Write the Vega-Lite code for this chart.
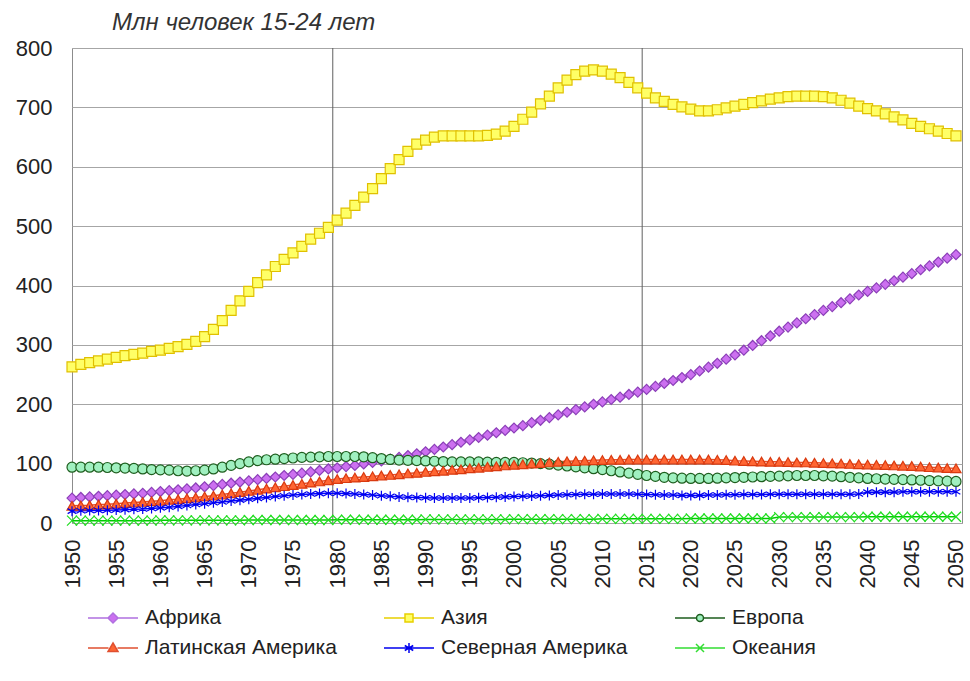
{
  "$schema": "https://vega.github.io/schema/vega-lite/v6.json",
  "width": 890,
  "height": 475,
  "autosize": {"type": "none"},
  "padding": {"left": 72, "top": 48, "right": 8, "bottom": 158},
  "background": "white",
  "title": {"text": "Млн человек 15-24 лет", "anchor": "start", "frame": "group", "dx": 40, "offset": 2, "font": "Liberation Sans", "fontSize": 24, "fontStyle": "italic", "fontWeight": "normal", "color": "#333333"},
  "config": {
    "font": "Liberation Sans",
    "view": {"stroke": "#8c8c8c", "strokeWidth": 1},
    "axis": {"labelFont": "Liberation Sans", "labelColor": "#222222", "labelFontSize": 22, "ticks": false, "domain": false, "grid": false, "title": null}
  },
  "datasets": {
    "youth": [
      {"year":1950,"Африка":42,"Азия":263,"Европа":94,"Латинская Америка":29,"Северная Америка":20,"Океания":4},
      {"year":1951,"Африка":43,"Азия":267,"Европа":94,"Латинская Америка":29.5,"Северная Америка":20.5,"Океания":4},
      {"year":1952,"Африка":44,"Азия":270,"Европа":94,"Латинская Америка":30,"Северная Америка":21,"Океания":4},
      {"year":1953,"Африка":45,"Азия":273,"Европа":94,"Латинская Америка":31,"Северная Америка":21,"Океания":4},
      {"year":1954,"Африка":46,"Азия":276,"Европа":93.5,"Латинская Америка":31.5,"Северная Америка":21.5,"Океания":4},
      {"year":1955,"Африка":47,"Азия":279,"Европа":93,"Латинская Америка":32.5,"Северная Америка":22,"Океания":4},
      {"year":1956,"Африка":48,"Азия":282,"Европа":92.5,"Латинская Америка":33.5,"Северная Америка":22.5,"Океания":4},
      {"year":1957,"Африка":49,"Азия":284,"Европа":92,"Латинская Америка":34.5,"Северная Америка":23,"Океания":4},
      {"year":1958,"Африка":50,"Азия":286,"Европа":91,"Латинская Америка":35.5,"Северная Америка":23.5,"Океания":4},
      {"year":1959,"Африка":51.5,"Азия":289,"Европа":90,"Латинская Америка":36.5,"Северная Америка":24.5,"Океания":4},
      {"year":1960,"Африка":53,"Азия":291,"Европа":89.5,"Латинская Америка":37.5,"Северная Америка":25.5,"Океания":4.5},
      {"year":1961,"Африка":54.5,"Азия":294,"Европа":89,"Латинская Америка":39,"Северная Америка":26.5,"Океания":4.5},
      {"year":1962,"Африка":56,"Азия":297,"Европа":88,"Латинская Америка":40,"Северная Америка":28,"Океания":4.5},
      {"year":1963,"Африка":57.5,"Азия":301,"Европа":87.5,"Латинская Америка":41.5,"Северная Америка":29.5,"Океания":4.5},
      {"year":1964,"Африка":59,"Азия":306,"Европа":88,"Латинская Америка":43,"Северная Америка":31,"Океания":4.5},
      {"year":1965,"Африка":61,"Азия":314,"Европа":89,"Латинская Америка":44.5,"Северная Америка":32.5,"Океания":4.5},
      {"year":1966,"Африка":63,"Азия":326,"Европа":91,"Латинская Америка":46,"Северная Америка":34,"Океания":4.5},
      {"year":1967,"Африка":65,"Азия":341,"Европа":94,"Латинская Америка":48,"Северная Америка":35.5,"Океания":4.5},
      {"year":1968,"Африка":67,"Азия":358,"Европа":97,"Латинская Америка":50,"Северная Америка":37,"Океания":4.5},
      {"year":1969,"Африка":69,"Азия":374,"Европа":100,"Латинская Америка":52,"Северная Америка":38.5,"Океания":4.5},
      {"year":1970,"Африка":71,"Азия":390,"Европа":103,"Латинская Америка":54,"Северная Америка":40,"Океания":5},
      {"year":1971,"Африка":73,"Азия":405,"Европа":105,"Латинская Америка":56,"Северная Америка":41.5,"Океания":5},
      {"year":1972,"Африка":75,"Азия":418,"Европа":106.5,"Латинская Америка":58,"Северная Америка":43,"Океания":5},
      {"year":1973,"Африка":77.5,"Азия":432,"Европа":107.5,"Латинская Америка":60,"Северная Америка":44.5,"Океания":5},
      {"year":1974,"Африка":80,"Азия":444,"Европа":108.5,"Латинская Америка":62,"Северная Америка":46,"Океания":5},
      {"year":1975,"Африка":82,"Азия":455,"Европа":109.5,"Латинская Америка":64,"Северная Америка":47,"Океания":5},
      {"year":1976,"Африка":84,"Азия":466,"Европа":110.5,"Латинская Америка":66,"Северная Америка":48,"Океания":5},
      {"year":1977,"Африка":86,"Азия":478,"Европа":111,"Латинская Америка":68,"Северная Америка":49,"Океания":5},
      {"year":1978,"Африка":88.5,"Азия":488,"Европа":111.5,"Латинская Америка":70,"Северная Америка":49.5,"Океания":5},
      {"year":1979,"Африка":91,"Азия":498,"Европа":112,"Латинская Америка":72,"Северная Америка":50,"Океания":5},
      {"year":1980,"Африка":93,"Азия":510,"Европа":112,"Латинская Америка":74,"Северная Америка":50,"Океания":5.5},
      {"year":1981,"Африка":95,"Азия":522,"Европа":112,"Латинская Америка":75.5,"Северная Америка":49.5,"Океания":5.5},
      {"year":1982,"Африка":97,"Азия":535,"Европа":112,"Латинская Америка":76.5,"Северная Америка":49,"Океания":5.5},
      {"year":1983,"Африка":99.5,"Азия":549,"Европа":111.5,"Латинская Америка":77.5,"Северная Америка":48,"Океания":5.5},
      {"year":1984,"Африка":102,"Азия":563,"Европа":110,"Латинская Америка":78.5,"Северная Америка":47,"Океания":5.5},
      {"year":1985,"Африка":104.5,"Азия":580,"Европа":108.5,"Латинская Америка":80,"Северная Америка":46,"Океания":5.5},
      {"year":1986,"Африка":107.5,"Азия":597,"Европа":107,"Латинская Америка":81,"Северная Америка":45,"Океания":5.5},
      {"year":1987,"Африка":110.5,"Азия":612,"Европа":106,"Латинская Америка":82,"Северная Америка":44,"Океания":5.5},
      {"year":1988,"Африка":113.5,"Азия":626,"Европа":105.5,"Латинская Америка":83.5,"Северная Америка":43.5,"Океания":5.5},
      {"year":1989,"Африка":116.5,"Азия":638,"Европа":105,"Латинская Америка":84.5,"Северная Америка":43,"Океания":5.5},
      {"year":1990,"Африка":120,"Азия":645,"Европа":104.5,"Латинская Америка":86,"Северная Америка":42.5,"Океания":6},
      {"year":1991,"Африка":124,"Азия":650,"Европа":104,"Латинская Америка":87,"Северная Америка":42,"Океания":6},
      {"year":1992,"Африка":128,"Азия":652,"Европа":103.5,"Латинская Америка":88,"Северная Америка":42,"Океания":6},
      {"year":1993,"Африка":132,"Азия":652,"Европа":103,"Латинская Америка":89.5,"Северная Америка":42,"Океания":6},
      {"year":1994,"Африка":136,"Азия":652,"Европа":103,"Латинская Америка":90.5,"Северная Америка":42,"Океания":6},
      {"year":1995,"Африка":140,"Азия":652,"Европа":103,"Латинская Америка":92,"Северная Америка":42,"Океания":6},
      {"year":1996,"Африка":144,"Азия":652,"Европа":103,"Латинская Америка":93,"Северная Америка":42.5,"Океания":6},
      {"year":1997,"Африка":148,"Азия":653,"Европа":102.5,"Латинская Америка":94.5,"Северная Америка":43,"Океания":6},
      {"year":1998,"Африка":152,"Азия":655,"Европа":102,"Латинская Америка":95.5,"Северная Америка":43.5,"Океания":6},
      {"year":1999,"Африка":156,"Азия":660,"Европа":102,"Латинская Америка":97,"Северная Америка":44,"Океания":6},
      {"year":2000,"Африка":160,"Азия":668,"Европа":102,"Латинская Америка":98,"Северная Америка":44.5,"Океания":6.5},
      {"year":2001,"Африка":164,"Азия":680,"Европа":101.5,"Латинская Америка":99,"Северная Америка":45,"Океания":6.5},
      {"year":2002,"Африка":169,"Азия":692,"Европа":101,"Латинская Америка":100,"Северная Америка":45.5,"Океания":6.5},
      {"year":2003,"Африка":173,"Азия":706,"Европа":100,"Латинская Америка":101,"Северная Америка":46,"Океания":6.5},
      {"year":2004,"Африка":177.5,"Азия":719,"Европа":99,"Латинская Америка":102,"Северная Америка":46.5,"Океания":6.5},
      {"year":2005,"Африка":182,"Азия":733,"Европа":97.5,"Латинская Америка":103,"Северная Америка":47,"Океания":6.5},
      {"year":2006,"Африка":186.5,"Азия":746,"Европа":96,"Латинская Америка":104,"Северная Америка":47.5,"Океания":6.5},
      {"year":2007,"Африка":191,"Азия":755,"Европа":94.5,"Латинская Америка":104.5,"Северная Америка":48,"Океания":6.5},
      {"year":2008,"Африка":195.5,"Азия":761,"Европа":93,"Латинская Америка":105,"Северная Америка":48.5,"Океания":6.5},
      {"year":2009,"Африка":200,"Азия":763,"Европа":91.5,"Латинская Америка":105.5,"Северная Америка":48.5,"Океания":6.5},
      {"year":2010,"Африка":204,"Азия":761,"Европа":90,"Латинская Америка":106,"Северная Америка":49,"Океания":7},
      {"year":2011,"Африка":208,"Азия":756,"Европа":88,"Латинская Америка":106.5,"Северная Америка":49,"Океания":7},
      {"year":2012,"Африка":212,"Азия":750,"Европа":86,"Латинская Америка":106.5,"Северная Америка":49,"Океания":7},
      {"year":2013,"Африка":216.5,"Азия":742,"Европа":84,"Латинская Америка":107,"Северная Америка":49,"Океания":7},
      {"year":2014,"Африка":220.5,"Азия":733,"Европа":82,"Латинская Америка":107,"Северная Америка":48.5,"Океания":7},
      {"year":2015,"Африка":225,"Азия":724,"Европа":80,"Латинская Америка":107,"Северная Америка":48,"Океания":7},
      {"year":2016,"Африка":230,"Азия":716,"Европа":78.5,"Латинская Америка":107,"Северная Америка":47.5,"Океания":7},
      {"year":2017,"Африка":235,"Азия":710,"Европа":77,"Латинская Америка":107,"Северная Америка":47,"Океания":7},
      {"year":2018,"Африка":240,"Азия":705,"Европа":76,"Латинская Америка":107,"Северная Америка":47,"Океания":7},
      {"year":2019,"Африка":245,"Азия":701,"Европа":75.5,"Латинская Америка":107,"Северная Америка":46.5,"Океания":7},
      {"year":2020,"Африка":250,"Азия":697,"Европа":75,"Латинская Америка":107,"Северная Америка":46.5,"Океания":7.5},
      {"year":2021,"Африка":256,"Азия":694,"Европа":75,"Латинская Америка":107,"Северная Америка":46.5,"Океания":7.5},
      {"year":2022,"Африка":262.5,"Азия":694,"Европа":75,"Латинская Америка":107,"Северная Америка":47,"Океания":7.5},
      {"year":2023,"Африка":269,"Азия":696,"Европа":75.5,"Латинская Америка":106.5,"Северная Америка":47,"Океания":7.5},
      {"year":2024,"Африка":276,"Азия":699,"Европа":76,"Латинская Америка":106,"Северная Америка":47.5,"Океания":7.5},
      {"year":2025,"Африка":283,"Азия":702,"Европа":76.5,"Латинская Америка":105,"Северная Америка":47.5,"Океания":7.5},
      {"year":2026,"Африка":291,"Азия":705,"Европа":77,"Латинская Америка":104.5,"Северная Америка":48,"Океания":7.5},
      {"year":2027,"Африка":299,"Азия":708,"Европа":77.5,"Латинская Америка":104,"Северная Америка":48,"Океания":7.5},
      {"year":2028,"Африка":307,"Азия":711,"Европа":78,"Латинская Америка":103.5,"Северная Америка":48,"Океания":7.5},
      {"year":2029,"Африка":315,"Азия":714,"Европа":78.5,"Латинская Америка":103,"Северная Америка":48.5,"Океания":7.5},
      {"year":2030,"Африка":323,"Азия":716,"Европа":79,"Латинская Америка":103,"Северная Америка":48.5,"Океания":10},
      {"year":2031,"Африка":330,"Азия":718,"Европа":79.5,"Латинская Америка":102.5,"Северная Америка":48.5,"Океания":10},
      {"year":2032,"Африка":337,"Азия":719,"Европа":80,"Латинская Америка":102,"Северная Америка":48.5,"Океания":10},
      {"year":2033,"Африка":344,"Азия":719,"Европа":80,"Латинская Америка":102,"Северная Америка":48.5,"Океания":10},
      {"year":2034,"Африка":351,"Азия":719,"Европа":80,"Латинская Америка":101.5,"Северная Америка":48.5,"Океания":10},
      {"year":2035,"Африка":358,"Азия":718,"Европа":79.5,"Латинская Америка":101,"Северная Америка":48.5,"Океания":10},
      {"year":2036,"Африка":364.5,"Азия":716,"Европа":79,"Латинская Америка":100.5,"Северная Америка":48.5,"Океания":10},
      {"year":2037,"Африка":371,"Азия":712,"Европа":78,"Латинская Америка":100,"Северная Америка":48.5,"Океания":10},
      {"year":2038,"Африка":377.5,"Азия":707,"Европа":77,"Латинская Америка":99.5,"Северная Америка":48.5,"Океания":10},
      {"year":2039,"Африка":384,"Азия":702,"Европа":76,"Латинская Америка":99,"Северная Америка":49,"Океания":10},
      {"year":2040,"Африка":390,"Азия":698,"Европа":75,"Латинская Америка":98.5,"Северная Америка":52,"Океания":10.5},
      {"year":2041,"Африка":396,"Азия":694,"Европа":74.5,"Латинская Америка":98,"Северная Америка":52,"Океания":10.5},
      {"year":2042,"Африка":402,"Азия":689,"Европа":74,"Латинская Америка":97.5,"Северная Америка":52,"Океания":10.5},
      {"year":2043,"Африка":408,"Азия":684,"Европа":73.5,"Латинская Америка":97,"Северная Америка":52,"Океания":10.5},
      {"year":2044,"Африка":414,"Азия":679,"Европа":73,"Латинская Америка":96.5,"Северная Америка":52.5,"Океания":10.5},
      {"year":2045,"Африка":420,"Азия":673,"Европа":72.5,"Латинская Америка":96,"Северная Америка":52.5,"Океания":10.5},
      {"year":2046,"Африка":426.5,"Азия":668,"Европа":72,"Латинская Америка":95,"Северная Америка":52.5,"Океания":10.5},
      {"year":2047,"Африка":433,"Азия":664,"Европа":71.5,"Латинская Америка":94,"Северная Америка":52.5,"Океания":10.5},
      {"year":2048,"Африка":439.5,"Азия":660,"Европа":71,"Латинская Америка":93.5,"Северная Америка":52.5,"Океания":10.5},
      {"year":2049,"Африка":446,"Азия":656,"Европа":70.5,"Латинская Америка":92.5,"Северная Америка":52.5,"Океания":10.5},
      {"year":2050,"Африка":452,"Азия":652,"Европа":70,"Латинская Америка":92,"Северная Америка":52.5,"Океания":10.5}
    ]
  },
  "resolve": {"scale": {"shape": "independent", "fill": "independent", "stroke": "independent"}},
  "layer": [
    {
      "data": {"values": [{"year": 1979.5}, {"year": 2014.5}]},
      "mark": {"type": "rule", "color": "#606060", "strokeWidth": 1},
      "encoding": {
        "x": {"field": "year", "type": "quantitative", "title": null}
      }
    },
    {
      "data": {"name": "youth"},
      "transform": [{"fold": ["Африка", "Азия", "Европа", "Латинская Америка", "Северная Америка", "Океания"], "as": ["region", "value"]}],
      "mark": {"type": "line", "strokeWidth": 1.5},
      "encoding": {
        "x": {"field": "year", "type": "quantitative", "title": null,
          "scale": {"domain": [1950, 2050.68], "nice": false, "zero": false},
          "axis": {"values": [1950,1955,1960,1965,1970,1975,1980,1985,1990,1995,2000,2005,2010,2015,2020,2025,2030,2035,2040,2045,2050], "format": "d", "labelAngle": 270, "labelPadding": 16, "labelOverlap": false, "labelFlush": false}},
        "y": {"field": "value", "type": "quantitative", "title": null,
          "scale": {"domain": [0, 800], "nice": false},
          "axis": {"values": [0,100,200,300,400,500,600,700,800], "grid": true, "gridColor": "#a6a6a6", "gridWidth": 1, "labelPadding": 20}},
        "color": {"field": "region", "type": "nominal", "legend": null,
          "scale": {"domain": ["Африка", "Азия", "Европа", "Латинская Америка", "Северная Америка", "Океания"],
            "range": ["#C080F0", "#FFFF00", "#006400", "#E85028", "#0000FF", "#00CC00"]}}
      }
    },
    {
      "data": {"name": "youth"},
      "transform": [{"fold": ["Африка", "Азия", "Европа", "Латинская Америка", "Северная Америка", "Океания"], "as": ["region", "value"]}],
      "mark": {"type": "point", "filled": false, "strokeWidth": 1.2, "size": 100, "opacity": 1},
      "encoding": {
        "x": {"field": "year", "type": "quantitative", "title": null},
        "y": {"field": "value", "type": "quantitative", "title": null},
        "shape": {"field": "region", "type": "nominal", "legend": null,
          "scale": {"domain": ["Африка", "Азия", "Европа", "Латинская Америка", "Северная Америка", "Океания"],
            "range": ["diamond", "square", "circle", "triangle-up", "M0,-1L0,1M-0.87,-0.5L0.87,0.5M-0.87,0.5L0.87,-0.5", "M-1,-1L1,1M-1,1L1,-1"]}},
        "fill": {"field": "region", "type": "nominal", "legend": null,
          "scale": {"domain": ["Африка", "Азия", "Европа", "Латинская Америка", "Северная Америка", "Океания"],
            "range": ["#CC70F0", "#FFFF66", "#A0F0C0", "#FF6633", "transparent", "transparent"]}},
        "stroke": {"field": "region", "type": "nominal", "legend": null,
          "scale": {"domain": ["Африка", "Азия", "Европа", "Латинская Америка", "Северная Америка", "Океания"],
            "range": ["#8B3FB8", "#E0C000", "#1E5E1E", "#D93A10", "#0000EE", "#22DD22"]}}
      }
    },
    {
      "data": {"name": "youth"},
      "transform": [{"fold": ["Африка", "Азия", "Европа", "Латинская Америка", "Северная Америка", "Океания"], "as": ["region", "value"]}, {"filter": "datum.year == 2050"}],
      "mark": {"type": "point", "filled": false, "strokeWidth": 1.5, "opacity": 0},
      "encoding": {
        "x": {"field": "year", "type": "quantitative", "title": null},
        "y": {"field": "value", "type": "quantitative", "title": null},
        "shape": {"field": "region", "type": "nominal",
          "scale": {"domain": ["Африка", "Азия", "Европа", "Латинская Америка", "Северная Америка", "Океания"],
            "range": [
              "M-1,0L-0.2,0M0.2,0L1,0M0,-0.2L0.2,0L0,0.2L-0.2,0Z",
              "M-1,0L-0.16,0M0.16,0L1,0M-0.16,-0.16L0.16,-0.16L0.16,0.16L-0.16,0.16Z",
              "M-1,0L-0.14,0M0.14,0L1,0M-0.14,0A0.14,0.14,0,1,0,0.14,0A0.14,0.14,0,1,0,-0.14,0Z",
              "M-1,0L-0.18,0M0.18,0L1,0M0,-0.2L0.2,0.14L-0.2,0.14Z",
              "M-1,0L1,0M0,-0.2L0,0.2M-0.17,-0.1L0.17,0.1M-0.17,0.1L0.17,-0.1",
              "M-1,0L1,0M-0.16,-0.16L0.16,0.16M-0.16,0.16L0.16,-0.16"
            ]},
          "legend": {"orient": "none", "legendX": 15, "legendY": 559, "direction": "horizontal", "columns": 3, "columnPadding": 46, "rowPadding": 8, "clipHeight": 22, "symbolSize": 2500, "symbolStrokeWidth": 1.5, "labelFontSize": 21, "labelFont": "Liberation Sans", "labelOffset": 6, "labelColor": "#222222", "labelLimit": 0, "title": null, "symbolOpacity": 1,
            "encode": {"symbols": {"update": {"opacity": {"value": 1}}}}}},
        "fill": {"field": "region", "type": "nominal",
          "scale": {"domain": ["Африка", "Азия", "Европа", "Латинская Америка", "Северная Америка", "Океания"],
            "range": ["#CC70F0", "#FFFF66", "#A0F0C0", "#FF6633", "transparent", "transparent"]}},
        "stroke": {"field": "region", "type": "nominal",
          "scale": {"domain": ["Африка", "Азия", "Европа", "Латинская Америка", "Северная Америка", "Океания"],
            "range": ["#B070E0", "#E8D000", "#1E5E1E", "#E05030", "#0000EE", "#33DD33"]}}
      }
    }
  ]
}
